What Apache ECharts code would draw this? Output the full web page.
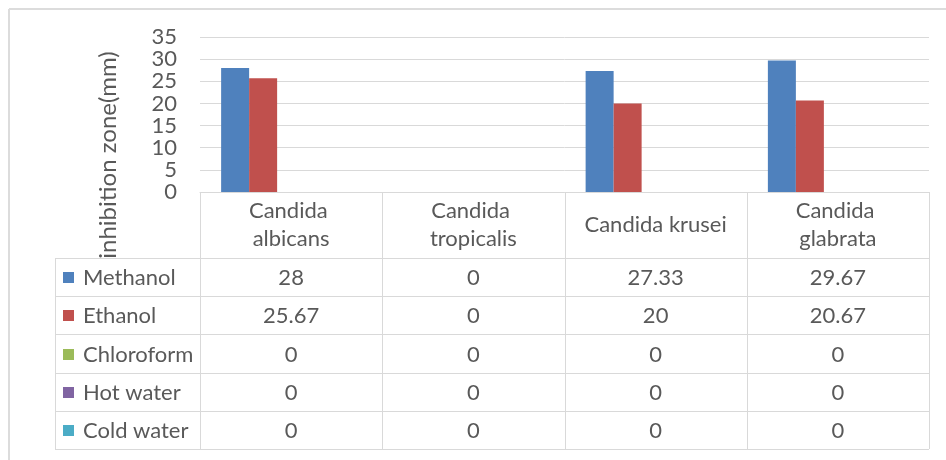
<!DOCTYPE html>
<html>
<head>
<meta charset="utf-8">
<script src="https://cdn.jsdelivr.net/npm/echarts@6/dist/echarts.min.js"></script>
<style>
  html, body { margin: 0; padding: 0; background: #fff; }
  #chart { width: 946px; height: 460px; }
</style>
</head>
<body>
<div id="chart"></div>
<script>
// data
const categories = ["Candida albicans", "Candida tropicalis", "Candida krusei", "Candida glabrata"];
const seriesNames = ["Methanol", "Ethanol", "Chloroform", "Hot water", "Cold water"];
const methanol = [28, 0, 27.33, 29.67];
const ethanol = [25.67, 0, 20, 20.67];
const chloroform = [0, 0, 0, 0];
const hotWater = [0, 0, 0, 0];
const coldWater = [0, 0, 0, 0];
const seriesColors = ["#4f81bd", "#c0504d", "#9bbb59", "#8064a2", "#4bacc6"];
const yMin = 0, yMax = 35, yStep = 5;
const yTitle = "inhibition zone(mm)";

const FONT = "Lato, sans-serif";
const TEXT = "#595959";
const LINE = "#d9d9d9";

const seriesValues = [methanol, ethanol, chloroform, hotWater, coldWater];

const chart = echarts.init(document.getElementById("chart"), null, { renderer: "canvas" });

chart.setOption({
  animation: false,
  grid: { left: 200, right: 17, top: 37, bottom: 268, outerBoundsMode: "none" },
  xAxis: {
    type: "category",
    data: categories,
    axisLine: { lineStyle: { color: LINE, width: 1 } },
    axisTick: { show: false },
    axisLabel: {
      interval: 0, color: TEXT, fontFamily: FONT, fontSize: 22,
      width: 145, overflow: "break", lineHeight: 28,
      verticalAlign: "middle", margin: 33,
    },
  },
  yAxis: {
    type: "value",
    min: yMin, max: yMax, interval: yStep,
    axisLine: { show: false },
    axisTick: { show: false },
    axisLabel: { color: TEXT, fontFamily: FONT, fontSize: 22, margin: 23 },
    splitLine: { lineStyle: { color: LINE, width: 1 } },
  },
  series: seriesNames.map((name, i) => ({
    name,
    type: "bar",
    data: seriesValues[i],
    barWidth: 28,
    barGap: "0%",
    itemStyle: { color: seriesColors[i] },
  })),
});

// data table under the plot, lined up with the category axis
const colCenters = categories.map((c) => chart.convertToPixel({ xAxisIndex: 0 }, c));
const band = colCenters[1] - colCenters[0];
const colEdges = [colCenters[0] - band / 2].concat(colCenters.map((c) => c + band / 2));
const axisY = chart.convertToPixel({ yAxisIndex: 0 }, yMin);
const tableLeft = 55;
const headerH = 66;
const rowH = 38.2;
const rowTop = axisY + headerH;
const tableBottom = rowTop + rowH * seriesNames.length;
const right = colEdges[colEdges.length - 1];

const els = [];
const line = (x1, y1, x2, y2, w, c) => els.push({
  type: "line", silent: true,
  shape: { x1, y1, x2, y2 },
  style: { stroke: c || LINE, lineWidth: w || 1 },
});

for (let k = 0; k <= seriesNames.length; k++) {
  const y = Math.round(rowTop + k * rowH) + 0.5;
  line(tableLeft, y, right, y);
}
line(tableLeft + 0.5, rowTop, tableLeft + 0.5, tableBottom);
colEdges.forEach((x) => line(Math.round(x) + 0.5, axisY, Math.round(x) + 0.5, tableBottom));

seriesNames.forEach((name, r) => {
  const cy = rowTop + rowH * (r + 0.5);
  els.push({
    type: "rect", silent: true,
    shape: { x: 63, y: Math.round(cy) - 5, width: 11, height: 11 },
    style: { fill: seriesColors[r] },
  });
  els.push({
    type: "text", silent: true,
    style: { text: name, x: 83, y: cy + 1, fill: TEXT, font: "22px " + FONT, align: "left", verticalAlign: "middle" },
  });
  seriesValues[r].forEach((v, c) => {
    els.push({
      type: "text", silent: true,
      style: { text: String(v), x: colCenters[c], y: cy + 1, fill: TEXT, font: "22px " + FONT, align: "center", verticalAlign: "middle" },
    });
  });
});

// axis title
els.push({
  type: "text", silent: true,
  x: 108, y: 155, rotation: Math.PI / 2,
  style: { text: yTitle, x: 0, y: 0, fill: TEXT, font: "24px " + FONT, align: "center", verticalAlign: "middle" },
});

// chart frame
line(9, 9, 946, 9, 2, "#dcdcdc");
line(9, 9, 9, 460, 2, "#dcdcdc");

chart.setOption({ graphic: { elements: els } });
</script>
</body>
</html>
